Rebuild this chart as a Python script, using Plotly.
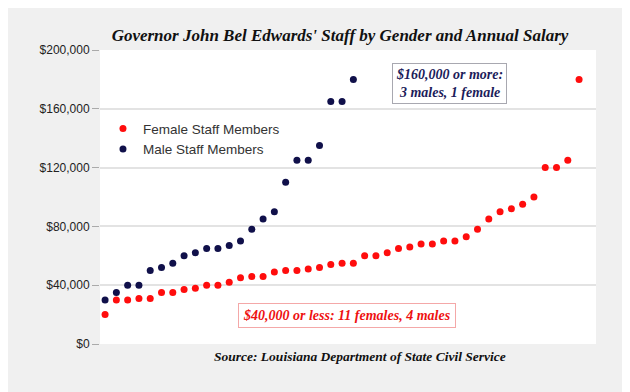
import plotly.graph_objects as go

female_salaries = [20000, 30000, 30000, 31000, 31000, 35000, 35000, 37000, 38000, 40000,
                   40000, 42000, 45000, 46000, 46000, 49000, 50000, 50000, 51000, 52000,
                   54000, 55000, 55000, 60000, 60000, 62000, 65000, 66000, 68000, 68000,
                   70000, 70000, 73000, 78000, 85000, 90000, 92000, 95000, 100000, 120000,
                   120000, 125000, 180000]
male_salaries = [30000, 35000, 40000, 40000, 50000, 52000, 55000, 60000, 62000, 65000,
                 65000, 67000, 70000, 78000, 85000, 90000, 110000, 125000, 125000, 135000,
                 165000, 165000, 180000]
y_ticks = [0, 40000, 80000, 120000, 160000, 200000]
y_tick_labels = ["$0", "$40,000", "$80,000", "$120,000", "$160,000", "$200,000"]

female_x = list(range(len(female_salaries)))
male_x = list(range(len(male_salaries)))

serif = "Georgia, 'Liberation Serif', 'DejaVu Serif', serif"
sans = "Arial, 'Liberation Sans', sans-serif"

# page body has an 8px margin; figure is sized to the visible area
W, H = 622, 384
L, T, R, B = 92, 42, 34, 48
pw, ph = W - L - R, H - T - B

fig = go.Figure()
fig.add_trace(go.Scatter(x=female_x, y=female_salaries, mode="markers",
                         name="Female Staff Members",
                         marker=dict(color="#ff0d0d", size=7)))
fig.add_trace(go.Scatter(x=male_x, y=male_salaries, mode="markers",
                         name="Male Staff Members",
                         marker=dict(color="#10104a", size=7)))

fig.update_layout(
    width=W, height=H,
    paper_bgcolor="#f0f0f0", plot_bgcolor="#ffffff",
    margin=dict(l=L, r=R, t=T, b=B),
    title=dict(text="<b><i>Governor John Bel Edwards' Staff by Gender and Annual Salary</i></b>",
               font=dict(family=serif, size=17, color="#111111"),
               x=332/W, xanchor="center", xref="container",
               y=1-27/H, yanchor="middle", yref="container"),
    legend=dict(x=0.006, y=0.785, xanchor="left", yanchor="top",
                bgcolor="rgba(0,0,0,0)", font=dict(family=sans, size=13.5, color="#333333"),
                tracegroupgap=0),
    showlegend=True,
)
fig.update_xaxes(range=[-0.45, 43.5], showgrid=False, showticklabels=False,
                 zeroline=False, showline=False, ticks="")
fig.update_yaxes(range=[0, 200000], tickvals=y_ticks, ticktext=y_tick_labels,
                 showgrid=True, gridcolor="#e3e3e3", gridwidth=2,
                 zeroline=False, showline=False,
                 ticks="outside", ticklen=7, tickcolor="#aaaaaa", tickwidth=1,
                 tickfont=dict(family=sans, size=12, color="#222222"))

fig.add_annotation(x=30.5, y=177500, xref="x", yref="y",
                   text="<b><i>$160,000 or more:<br>3 males, 1 female</i></b>",
                   showarrow=False, font=dict(family=serif, size=14, color="#1c1c5a"),
                   bgcolor="#ffffff", bordercolor="#a8a8b0", borderwidth=1, borderpad=3,
                   align="center")
fig.add_annotation(x=21.4, y=19500, xref="x", yref="y",
                   text="<b><i>$40,000 or less: 11 females, 4 males</i></b>",
                   showarrow=False, font=dict(family=serif, size=14, color="#ee1111"),
                   bgcolor="#ffffff", bordercolor="#f4a8a8", borderwidth=1, borderpad=4,
                   align="center")
fig.add_annotation(x=(352-L)/pw, y=-12/ph, xref="paper", yref="paper",
                   text="<b><i>Source: Louisiana Department of State Civil Service</i></b>",
                   showarrow=False, font=dict(family=serif, size=13.5, color="#111111"),
                   xanchor="center", yanchor="middle")

fig.write_html("out.html")
